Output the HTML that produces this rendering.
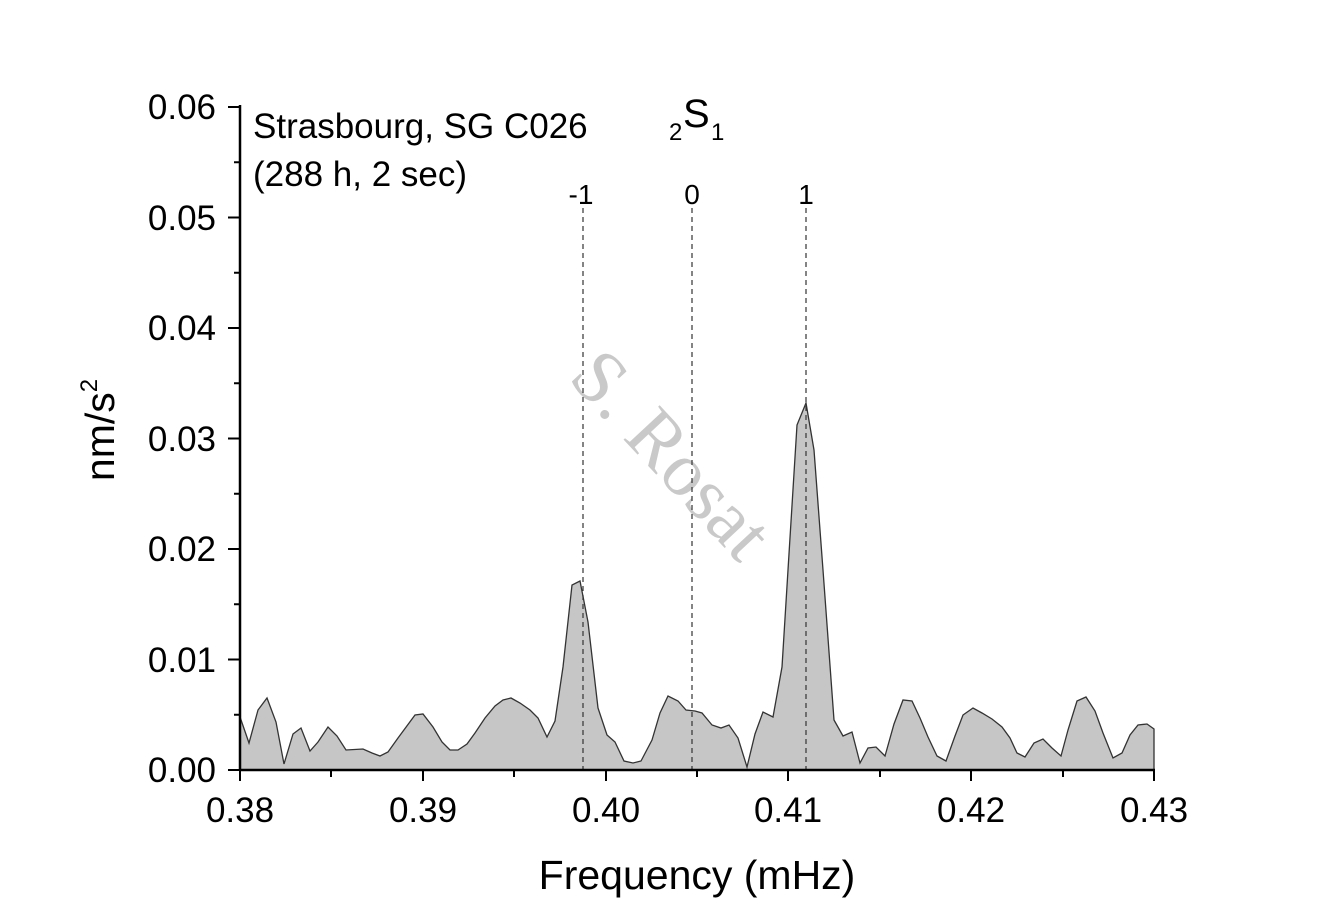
<!DOCTYPE html>
<html><head><meta charset="utf-8"><style>body{margin:0;background:#fff}svg{display:block}text{font-family:"Liberation Sans",Arial,sans-serif}</style></head>
<body>
<svg width="1340" height="923" viewBox="0 0 1340 923" xmlns="http://www.w3.org/2000/svg">
<text x="668" y="478" transform="rotate(47 668 458)" text-anchor="middle" font-size="76" fill="#c9c9c9" style="font-family:'Liberation Serif',serif">S. Rosat</text>
<polygon fill="#c6c6c6" stroke="#333" stroke-width="1.3" points="240,770 240,717 249,743 258,710 267,698 276,722 284,764 293,734 301,728 310,751 318,742 328,727 337,736 346,750 363,749 372,753 380,756 388,752 398,738 415,715 423,714 433,727 442,742 450,750 458,750 467,744 475,733 485,718 495,706 503,700 511,698 520,703 530,710 538,718 547,737 555,721 563,667 572,585 580,581 588,622 598,708 607,735 615,742 624,761 633,763 641,761 652,740 660,713 668,696 678,701 686,710 695,711 702,713 712,725 721,728 729,725 738,738 747,767 755,734 763,712 773,717 782,667 788,570 797,425 806,403 814,450 823,570 834,720 843,736 852,732 860,763 868,748 876,747 885,756 894,724 903,700 912,701 920,718 928,737 937,756 946,761 955,736 963,715 973,708 982,713 992,719 1002,727 1010,738 1017,753 1025,757 1034,743 1043,739 1052,748 1061,756 1068,730 1077,701 1086,697 1095,711 1103,733 1113,758 1122,753 1130,735 1138,725 1147,724 1154,729 1154,770"/>
<g stroke="#333" stroke-width="1.2" stroke-dasharray="5,4">
<line x1="583" y1="208" x2="583" y2="770"/><line x1="692" y1="208" x2="692" y2="770"/><line x1="806" y1="208" x2="806" y2="770"/>
</g>
<g font-size="28" text-anchor="middle" fill="#000"><text x="581" y="204">-1</text><text x="692" y="204">0</text><text x="806" y="204">1</text></g>
<g stroke="#000" stroke-width="2.5" fill="none">
<line x1="240" y1="105" x2="240" y2="771"/><line x1="239" y1="770" x2="1155" y2="770"/>
</g>
<g stroke="#000" stroke-width="2">
<line x1="228" y1="770" x2="240" y2="770"/><line x1="228" y1="659.5" x2="240" y2="659.5"/><line x1="228" y1="549" x2="240" y2="549"/><line x1="228" y1="438.5" x2="240" y2="438.5"/><line x1="228" y1="328" x2="240" y2="328"/><line x1="228" y1="217.5" x2="240" y2="217.5"/><line x1="228" y1="107" x2="240" y2="107"/>
<line x1="234" y1="714.75" x2="240" y2="714.75"/><line x1="234" y1="604.25" x2="240" y2="604.25"/><line x1="234" y1="493.75" x2="240" y2="493.75"/><line x1="234" y1="383.25" x2="240" y2="383.25"/><line x1="234" y1="272.75" x2="240" y2="272.75"/><line x1="234" y1="162.25" x2="240" y2="162.25"/>
<line x1="240" y1="770" x2="240" y2="781"/><line x1="423" y1="770" x2="423" y2="781"/><line x1="606" y1="770" x2="606" y2="781"/><line x1="788" y1="770" x2="788" y2="781"/><line x1="971" y1="770" x2="971" y2="781"/><line x1="1154" y1="770" x2="1154" y2="781"/>
<line x1="331" y1="770" x2="331" y2="777"/><line x1="514" y1="770" x2="514" y2="777"/><line x1="697" y1="770" x2="697" y2="777"/><line x1="880" y1="770" x2="880" y2="777"/><line x1="1063" y1="770" x2="1063" y2="777"/>
</g>
<g font-size="35" text-anchor="end" fill="#000">
<text x="216" y="782">0.00</text><text x="216" y="672">0.01</text><text x="216" y="561">0.02</text><text x="216" y="451">0.03</text><text x="216" y="340">0.04</text><text x="216" y="230">0.05</text><text x="216" y="119">0.06</text>
</g>
<g font-size="35" text-anchor="middle" fill="#000">
<text x="240" y="822">0.38</text><text x="423" y="822">0.39</text><text x="606" y="822">0.40</text><text x="788" y="822">0.41</text><text x="971" y="822">0.42</text><text x="1154" y="822">0.43</text>
</g>
<text x="697" y="889" font-size="41" text-anchor="middle">Frequency (mHz)</text>
<text transform="translate(114 430) rotate(-90)" font-size="41" text-anchor="middle">nm/s<tspan font-size="24" dy="-17">2</tspan></text>
<text x="253" y="138" font-size="35">Strasbourg, SG C026</text>
<text x="253" y="186" font-size="35">(288 h, 2 sec)</text>
<text x="669" y="140" font-size="24">2</text>
<text x="683" y="127" font-size="40">S</text>
<text x="711" y="140" font-size="24">1</text>
</svg>
</body></html>
